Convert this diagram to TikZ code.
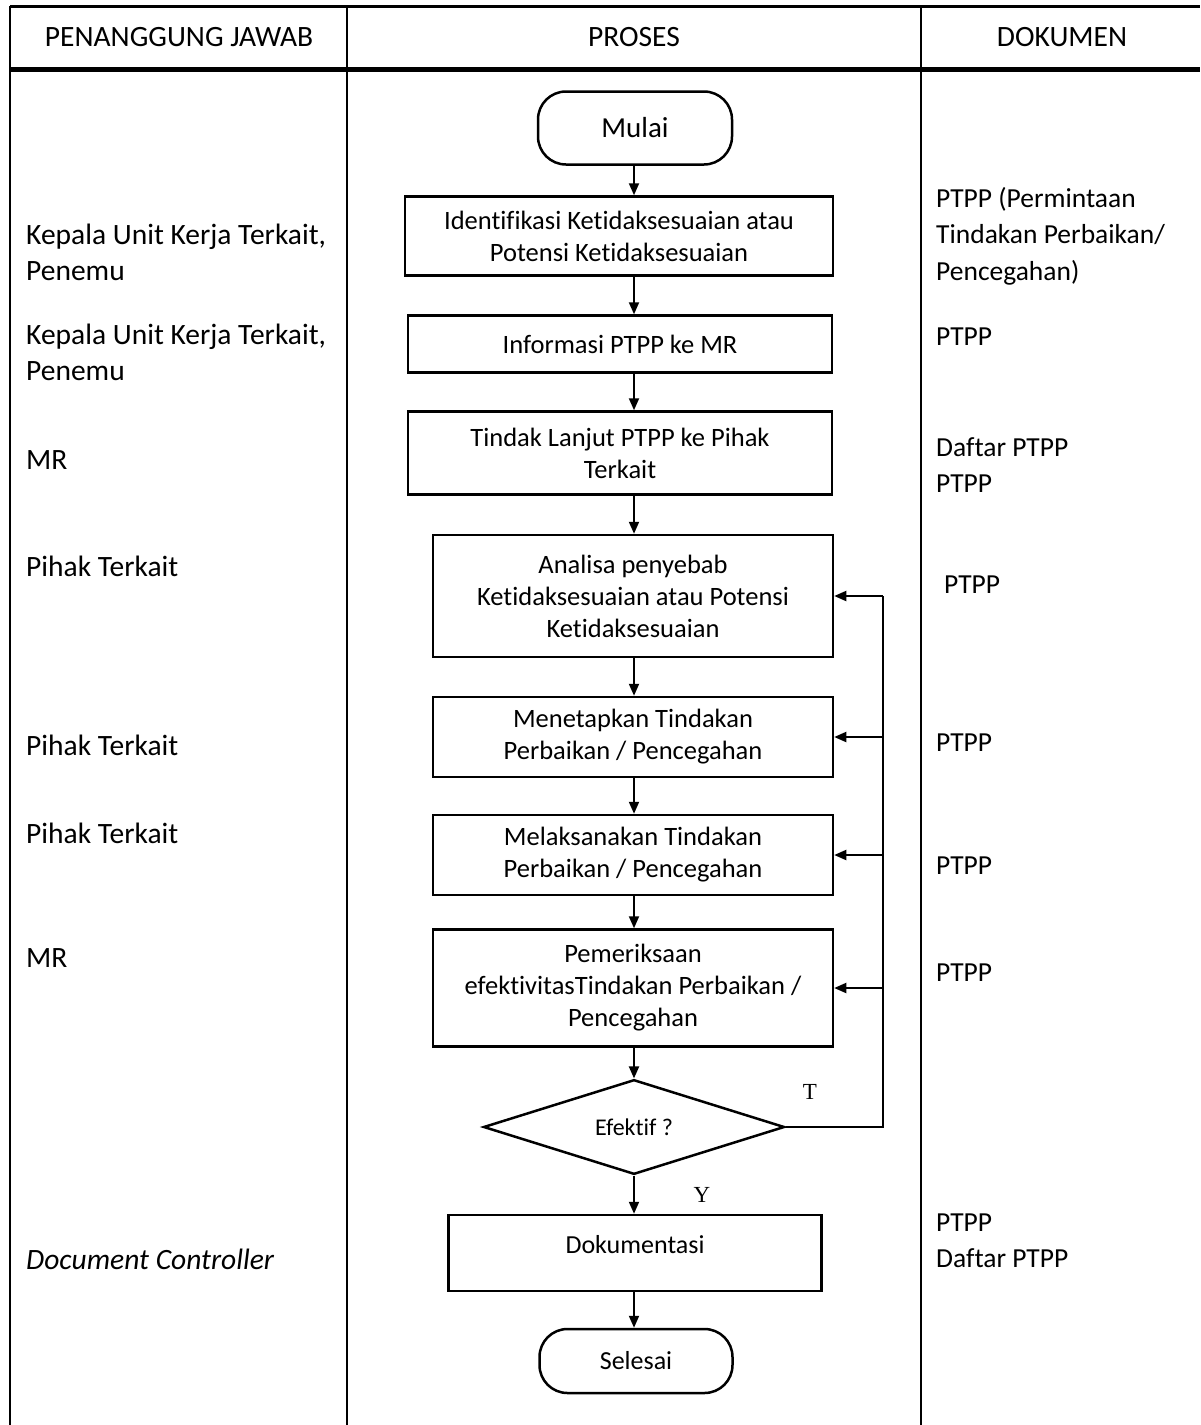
\documentclass[tikz,border=0pt]{standalone}
\usepackage{fontspec}
\setmainfont{Carlito}[Ligatures=NoCommon]
\newfontfamily\serifTY{Liberation Serif}
\usetikzlibrary{shapes.geometric,arrows.meta,positioning}
\newcommand{\fs}{\fontsize{29.5}{36}\selectfont}
\newcommand{\fsdok}{\fontsize{27.5}{36.5}\selectfont}
\newcommand{\fsbox}{\fontsize{26.5}{32}\selectfont}

\begin{document}
\begin{tikzpicture}[x=1pt,y=-1pt,
  proses/.style={draw,line width=2.5pt,align=center,font=\fsbox,inner sep=0pt},
  ujung/.style={proses,rounded corners=28pt},
  putusan/.style={draw,line width=2.5pt,diamond,inner sep=0pt,font=\fontsize{24}{28}\selectfont},
  teks/.style={anchor=west,align=left,font=\fs,inner sep=0pt},
  dok/.style={teks,font=\fsdok},
  panah/.style={line width=2pt,-{Triangle[length=12pt,width=10pt]}},
  garis/.style={line width=2pt}]
   \useasboundingbox (0,0) rectangle (1200,1425);
   % tabel
   \draw[garis] (10,6) -- (10,1425);
   \draw[garis] (347,6) -- (347,1425);
   \draw[garis] (921,6) -- (921,1425);
   \draw[line width=3pt] (10,6) -- (1200,6);
   \draw[line width=5pt] (10,69) -- (1200,69);
   \node[font=\fs] (hpj) at (179,37) {PENANGGUNG JAWAB};
   \node[font=\fs] (hproses) at (634,37) {PROSES};
   \node[font=\fs] (hdok) at (1062,37) {DOKUMEN};
   % proses
   \coordinate (sumbu) at (634,0);
   \node[ujung,minimum width=194pt,minimum height=73pt,font=\fontsize{29}{32}\selectfont] (mulai) at (635,128) {Mulai};
   \node[proses,minimum width=428pt,minimum height=79pt] (identifikasi) at (619,236) {Identifikasi Ketidaksesuaian atau\\Potensi Ketidaksesuaian};
   \node[proses,minimum width=424pt,minimum height=57pt] (informasi) at (620,344) {Informasi PTPP ke MR};
   \node[proses,minimum width=424pt,minimum height=83pt] (tindak) at (620,453) {Tindak Lanjut PTPP ke Pihak\\Terkait};
   \node[proses,minimum width=400pt,minimum height=122pt] (analisa) at (633,596) {Analisa penyebab\\Ketidaksesuaian atau Potensi\\Ketidaksesuaian};
   \node[proses,minimum width=400pt,minimum height=80pt] (tetapkan) at (633,737) {Menetapkan Tindakan\\Perbaikan / Pencegahan};
   \node[proses,minimum width=400pt,minimum height=80pt] (laksana) at (633,855) {Melaksanakan Tindakan\\Perbaikan / Pencegahan};
   \node[proses,minimum width=400pt,minimum height=117pt] (periksa) at (633,988) {Pemeriksaan\\efektivitasTindakan Perbaikan /\\Pencegahan};
   \node[putusan,minimum width=301pt,minimum height=94pt] (efektif) at (634,1127) {Efektif ?};
   \node[proses,minimum width=373pt,minimum height=76pt,font=\fontsize{26}{30}\selectfont,
     text height=12pt,text depth=12pt] (dokumentasi) at (635,1253) {Dokumentasi};
   \node[ujung,minimum width=193pt,minimum height=64pt,font=\fontsize{26}{30}\selectfont] (selesai) at (636,1361) {Selesai};
   \foreach \a/\b in {mulai/identifikasi,identifikasi/informasi,informasi/tindak,tindak/analisa,
     analisa/tetapkan,tetapkan/laksana,laksana/periksa,periksa/efektif,efektif/dokumentasi,dokumentasi/selesai}
     \draw[panah] (sumbu |- \a.south) -- (sumbu |- \b.north);
   % kembali jika tidak efektif
   \draw[garis] (efektif.east) -- ++(97,0) coordinate (balik) -- (balik |- analisa.east);
   \foreach \b in {analisa,tetapkan,laksana,periksa}
     \draw[panah] (balik |- \b.east) -- (\b.east);
   \node[font=\serifTY\fontsize{23}{24}\selectfont] (tidak) at (810,1092) {T};
   \node[font=\serifTY\fontsize{23}{24}\selectfont] (ya) at (702,1195) {Y};
   % penanggung jawab
   \node[teks] (pj1) at (26,252) {Kepala Unit Kerja Terkait,\\Penemu};
   \node[teks] (pj2) at (26,352) {Kepala Unit Kerja Terkait,\\Penemu};
   \node[teks] (pj3) at (26,460) {MR};
   \node[teks] (pj4) at (26,566) {Pihak Terkait};
   \node[teks] (pj5) at (26,745) {Pihak Terkait};
   \node[teks] (pj6) at (26,833) {Pihak Terkait};
   \node[teks] (pj7) at (26,958) {MR};
   \node[teks,font=\fs\itshape] (pj8) at (26,1259) {Document Controller};
   % dokumen
   \node[dok] (dok1) at (936,236) {PTPP (Permintaan\\Tindakan Perbaikan/\\Pencegahan)};
   \node[dok] (dok2) at (936,337) {PTPP};
   \node[dok] (dok3) at (936,465) {Daftar PTPP\\PTPP};
   \node[dok] (dok4) at (944,585) {PTPP};
   \node[dok] (dok5) at (936,743) {PTPP};
   \node[dok] (dok6) at (936,866) {PTPP};
   \node[dok] (dok7) at (936,973) {PTPP};
   \node[dok] (dok8) at (936,1241) {PTPP\\Daftar PTPP};
\end{tikzpicture}
\end{document}
